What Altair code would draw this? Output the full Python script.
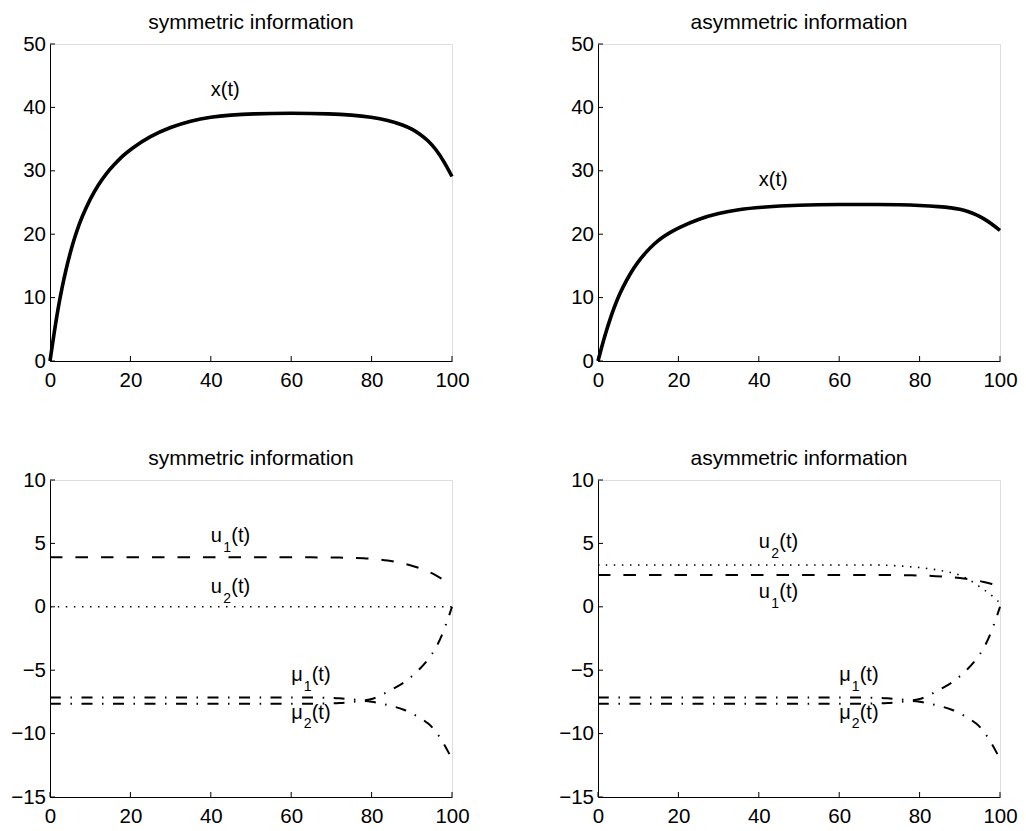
import altair as alt
import pandas as pd

FONT = "Liberation Sans"
W, H = 402, 317

x_ticks = [0, 20, 40, 60, 80, 100]
y_ticks_top = [0, 10, 20, 30, 40, 50]
y_ticks_bot = [-15, -10, -5, 0, 5, 10]

# ---- top panels: x(t) ----
t_x_sym = [0, 1, 2, 3, 4, 5, 6, 7, 8, 10, 12, 14, 16, 18, 20, 25, 30, 35, 40, 45, 50, 60, 70, 75, 80, 84, 88, 90, 92, 94, 96, 98, 100]
x_sym = [0, 4.3, 8.3, 11.6, 14.5, 17.0, 19.2, 21.1, 22.8, 25.6, 27.8, 29.6, 31.0, 32.3, 33.4, 35.5, 36.9, 37.9, 38.5, 38.8, 39.0, 39.1, 39.0, 38.8, 38.45, 38.0, 37.2, 36.6, 35.8, 34.8, 33.4, 31.5, 29.1]

t_x_asym = [0, 1, 2, 3, 4, 5, 6, 8, 10, 12, 14, 16, 18, 20, 25, 30, 35, 40, 50, 60, 70, 75, 80, 85, 88, 90, 92, 94, 96, 98, 100]
x_asym = [0, 2.4, 4.6, 6.6, 8.4, 10.0, 11.4, 13.8, 15.7, 17.2, 18.5, 19.5, 20.3, 21.0, 22.4, 23.3, 23.9, 24.25, 24.6, 24.7, 24.7, 24.65, 24.55, 24.35, 24.15, 23.95, 23.6, 23.1, 22.45, 21.6, 20.6]

# ---- bottom panels ----
t_b = [0, 10, 20, 30, 40, 50, 60, 65, 70, 72, 74, 76, 78, 80, 82, 84, 86, 88, 90, 92, 94, 96, 98, 100]
u1_sym = [3.9, 3.9, 3.9, 3.9, 3.9, 3.9, 3.9, 3.9, 3.89, 3.88, 3.87, 3.86, 3.84, 3.8, 3.74, 3.65, 3.54, 3.4, 3.25, 3.05, 2.8, 2.5, 2.1, 1.7]
u2_sym = [0] * 24
mu1 = [-7.15, -7.15, -7.15, -7.15, -7.15, -7.15, -7.15, -7.15, -7.18, -7.21, -7.26, -7.33, -7.4, -7.3, -7.05, -6.7, -6.35, -6.0, -5.5, -4.9, -4.2, -3.3, -1.9, 0]
mu2 = [-7.65, -7.65, -7.65, -7.65, -7.65, -7.65, -7.65, -7.65, -7.62, -7.59, -7.54, -7.47, -7.42, -7.47, -7.6, -7.75, -7.9, -8.1, -8.4, -8.75, -9.15, -9.8, -10.8, -12.0]
u1_asym = [2.5, 2.5, 2.5, 2.5, 2.5, 2.5, 2.5, 2.5, 2.5, 2.5, 2.5, 2.49, 2.48, 2.47, 2.45, 2.42, 2.38, 2.33, 2.27, 2.2, 2.1, 1.96, 1.8, 1.6]
u2_asym = [3.3, 3.3, 3.3, 3.3, 3.3, 3.3, 3.3, 3.3, 3.3, 3.28, 3.24, 3.2, 3.15, 3.1, 3.02, 2.93, 2.82, 2.7, 2.5, 2.2, 1.8, 1.35, 0.9, 0.3]

# ---- line labels: (base, subscript, suffix, t, value at baseline) ----
lab_top_sym = (["x(t)"], [""], [""], [40], [41.8])
lab_top_asym = (["x(t)"], [""], [""], [40], [27.6])
lab_bot_sym = (["u", "u", "μ", "μ"], ["1", "2", "1", "2"], ["(t)", "(t)", "(t)", "(t)"], [40, 40, 60, 60], [5.1, 1.05, -5.86, -8.82])
lab_bot_asym = (["u", "u", "μ", "μ"], ["2", "1", "1", "2"], ["(t)", "(t)", "(t)", "(t)"], [40, 40, 60, 60], [4.63, 0.67, -5.86, -8.82])

LBL = 20.5


def build_panel(title, series, ydom, yticks, labels):
    xs = alt.X("t:Q", scale=alt.Scale(domain=[0, 100], nice=False, zero=False),
               axis=alt.Axis(values=x_ticks, title=None, grid=False, ticks=False,
                             labelPadding=9, domainColor="black", labelColor="black",
                             labelFlush=False, labelOverlap=False,
                             labelFont=FONT, labelFontSize=LBL, format="d"))
    ys = alt.Y("v:Q", scale=alt.Scale(domain=ydom, nice=False, zero=False),
               axis=alt.Axis(values=yticks, title=None, grid=False, ticks=False,
                             labelPadding=4.5, domainColor="black", labelColor="black",
                             labelFlush=False, labelOverlap=False,
                             labelFont=FONT, labelFontSize=LBL, format="d"))
    layers = []
    for t, v, style in series:
        df = pd.DataFrame({"t": t, "v": v})
        layers.append(alt.Chart(df).mark_line(color="black", interpolate="basis", **style)
                      .encode(x=xs, y=ys))
    # inward ticks
    xt = pd.DataFrame({"t": x_ticks})
    layers.append(alt.Chart(xt).mark_rule(color="black", strokeWidth=1)
                  .encode(x=xs, y=alt.value(H), y2=alt.value(H - 5)))
    yt = pd.DataFrame({"v": yticks})
    layers.append(alt.Chart(yt).mark_rule(color="black", strokeWidth=1)
                  .encode(y=ys, x=alt.value(0), x2=alt.value(5)))
    base, sub, suf, lt, lv = labels
    ldf = pd.DataFrame({"base": base, "sub": sub, "suf": suf, "t": lt, "v": lv})
    lc = alt.Chart(ldf)
    layers.append(lc.mark_text(align="left", baseline="alphabetic", font=FONT, fontSize=20, color="black")
                  .encode(x=xs, y=ys, text="base:N"))
    layers.append(lc.mark_text(align="left", baseline="alphabetic", font=FONT, fontSize=14, color="black", dx=12.5, dy=9.5)
                  .encode(x=xs, y=ys, text="sub:N"))
    layers.append(lc.mark_text(align="left", baseline="alphabetic", font=FONT, fontSize=20, color="black", dx=20.5)
                  .encode(x=xs, y=ys, text="suf:N"))
    return alt.layer(*layers).properties(
        width=W, height=H,
        title=alt.TitleParams(title, font=FONT, fontSize=21, fontWeight="normal", color="black",
                              offset=-16, baseline="alphabetic", frame="group", anchor="middle"))


thick = {"strokeWidth": 3.6}
dashed = {"strokeWidth": 2, "strokeDash": [12.5, 13]}
dotted = {"strokeWidth": 1.6, "strokeDash": [1.5, 6.5]}
dashdot = {"strokeWidth": 2, "strokeDash": [11, 9.5, 1.5, 9.5]}

p1 = build_panel("symmetric information", [(t_x_sym, x_sym, thick)], [0, 50], y_ticks_top, lab_top_sym)
p2 = build_panel("asymmetric information", [(t_x_asym, x_asym, thick)], [0, 50], y_ticks_top, lab_top_asym)
p3 = build_panel("symmetric information",
                 [(t_b, u1_sym, dashed), (t_b, u2_sym, dotted), (t_b, mu1, dashdot), (t_b, mu2, dashdot)],
                 [-15, 10], y_ticks_bot, lab_bot_sym)
p4 = build_panel("asymmetric information",
                 [(t_b, u1_asym, dashed), (t_b, u2_asym, dotted), (t_b, mu1, dashdot), (t_b, mu2, dashdot)],
                 [-15, 10], y_ticks_bot, lab_bot_asym)

chart = alt.concat(p1, p2, p3, p4, columns=2, spacing={"row": 119, "column": 146}, bounds="flush").properties(
    padding={"left": 2, "top": 3, "right": 0, "bottom": 0}
).configure_view(stroke=None).configure(background="white")

chart.save("out.html", embed_options={"renderer": "svg", "actions": False})
